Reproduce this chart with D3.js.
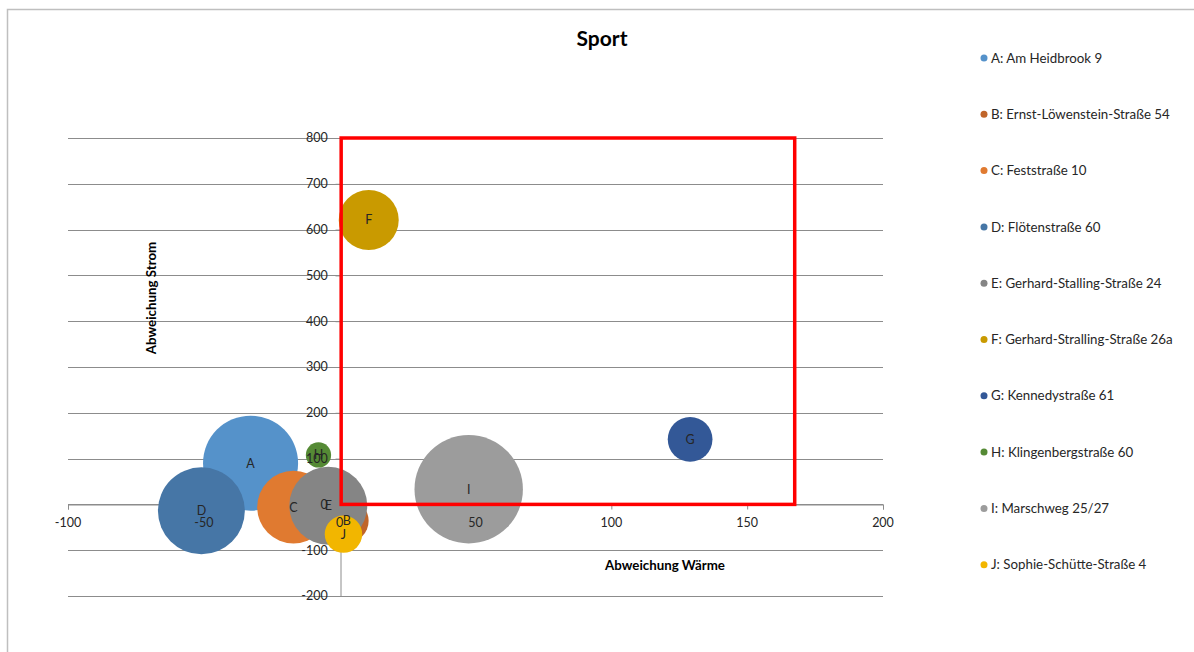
<!DOCTYPE html>
<html>
<head>
<meta charset="utf-8">
<script src="https://cdn.jsdelivr.net/npm/d3@7"></script>
<style>
  body { margin: 0; background: #fff; }
  svg { display: block; font-family: "Lato", "Liberation Sans", sans-serif; }
</style>
</head>
<body>
<svg id="chart" width="1194" height="652"></svg>
<script>
// bubble data
const labels = ["A", "B", "C", "D", "E", "F", "G", "H", "I", "J"];
const names = [
  "A: Am Heidbrook 9",
  "B: Ernst-Löwenstein-Straße 54",
  "C: Feststraße 10",
  "D: Flötenstraße 60",
  "E: Gerhard-Stalling-Straße 24",
  "F: Gerhard-Stralling-Straße 26a",
  "G: Kennedystraße 61",
  "H: Klingenbergstraße 60",
  "I: Marschweg 25/27",
  "J: Sophie-Schütte-Straße 4"
];
const waerme = [-32.8, 2.6, -17, -50.9, -4.2, 10.7, 129, -7.8, 47.5, 1.4];
const strom = [90, -36, -6, -14, -3, 621, 142, 108, 33, -65];
const sizes = [226, 48, 132, 189, 152, 90, 50, 16, 294, 35];
const colors = ["#5592ca", "#c0652a", "#e07a30", "#4676a6", "#858585",
                "#c99a00", "#335897", "#558a35", "#9c9c9c", "#f2b600"];

const xTicks = [-100, -50, 0, 50, 100, 150, 200];
const yTicks = [-200, -100, 0, 100, 200, 300, 400, 500, 600, 700, 800];
// red target box: [xmin, xmax, ymin, ymax] in data units
const zone = [0, 167.5, 0, 800];

const svg = d3.select("#chart");

const x = d3.scaleLinear().domain([-100, 200]).range([68, 883]);
const y = d3.scaleLinear().domain([-200, 800]).range([596, 138]);
const r = d3.scaleSqrt().domain([0, 294]).range([0, 54.2]);

// outer frame
svg.append("rect")
  .attr("x", 7.5).attr("y", 9.5)
  .attr("width", 1300).attr("height", 800)
  .attr("fill", "none")
  .attr("stroke", "#bfbfbf")
  .attr("stroke-width", 1.5);

// title
svg.append("text")
  .attr("x", 602).attr("y", 46)
  .attr("text-anchor", "middle")
  .style("font-size", "21px")
  .style("font-weight", "bold")
  .text("Sport");

// gridlines
svg.append("g")
  .selectAll("line")
  .data(yTicks)
  .enter().append("line")
  .attr("x1", x(-100)).attr("x2", x(200))
  .attr("y1", d => Math.round(y(d)) + 0.5)
  .attr("y2", d => Math.round(y(d)) + 0.5)
  .attr("stroke", "#8c8c8c")
  .attr("stroke-width", 1);

// axis lines (under the bubbles)
const axisX = d3.axisBottom(x).tickValues(xTicks).tickSize(5).tickFormat("");
const axisY = d3.axisLeft(y).tickValues(yTicks).tickSize(5).tickFormat("");

svg.append("g")
  .attr("transform", `translate(0,${Math.round(y(0)) + 0.5})`)
  .call(axisX)
  .call(g => g.select(".domain").attr("stroke", "#8c8c8c"))
  .call(g => g.selectAll(".tick line").attr("stroke", "#8c8c8c"));

svg.append("g")
  .attr("transform", `translate(${Math.round(x(0)) + 0.5},0)`)
  .call(axisY)
  .call(g => g.select(".domain").attr("stroke", "#8c8c8c"))
  .call(g => g.selectAll(".tick line").attr("stroke", "#8c8c8c"));

// bubbles
const bubbles = labels.map((l, i) => ({
  label: l, x: waerme[i], y: strom[i], s: sizes[i], color: colors[i]
}));

svg.append("g")
  .selectAll("circle")
  .data(bubbles)
  .enter().append("circle")
  .attr("cx", d => x(d.x))
  .attr("cy", d => y(d.y))
  .attr("r", d => r(d.s))
  .attr("fill", d => d.color);

svg.append("g")
  .selectAll("text")
  .data(bubbles)
  .enter().append("text")
  .attr("x", d => x(d.x))
  .attr("y", d => y(d.y))
  .attr("dy", "0.35em")
  .attr("text-anchor", "middle")
  .style("font-size", "12.5px")
  .attr("fill", "#262626")
  .text(d => d.label);

// tick labels (drawn on top of bubbles like the original)
svg.append("g")
  .selectAll("text")
  .data(xTicks)
  .enter().append("text")
  .attr("x", d => x(d))
  .attr("y", y(0) + 23)
  .attr("text-anchor", "middle")
  .style("font-size", "12.5px")
  .attr("fill", "#262626")
  .text(d => d);

svg.append("g")
  .selectAll("text")
  .data(yTicks)
  .enter().append("text")
  .attr("x", x(0) - 12)
  .attr("y", d => y(d))
  .attr("dy", "0.35em")
  .attr("text-anchor", "end")
  .style("font-size", "12.5px")
  .attr("fill", "#262626")
  .text(d => d);

// red highlight box
svg.append("rect")
  .attr("x", x(zone[0]) + 1.5)
  .attr("y", y(zone[3]))
  .attr("width", x(zone[1]) - x(zone[0]) - 1.5)
  .attr("height", y(zone[2]) - y(zone[3]))
  .attr("fill", "none")
  .attr("stroke", "#ff0000")
  .attr("stroke-width", 3.5);

// axis titles
svg.append("text")
  .attr("x", 665).attr("y", 570)
  .attr("text-anchor", "middle")
  .style("font-size", "13.3px")
  .style("font-weight", "bold")
  .text("Abweichung Wärme");

svg.append("text")
  .attr("transform", "translate(156,298) rotate(-90)")
  .attr("text-anchor", "middle")
  .style("font-size", "13.3px")
  .style("font-weight", "bold")
  .text("Abweichung Strom");

// legend
const legend = svg.append("g")
  .selectAll("g")
  .data(names)
  .enter().append("g")
  .attr("transform", (d, i) => `translate(984,${58 + i * 56.3})`);

legend.append("circle")
  .attr("r", 3.5)
  .attr("fill", (d, i) => colors[i]);

legend.append("text")
  .attr("x", 7)
  .attr("dy", "0.35em")
  .style("font-size", "13.3px")
  .attr("fill", "#262626")
  .text(d => d);
</script>
</body>
</html>
